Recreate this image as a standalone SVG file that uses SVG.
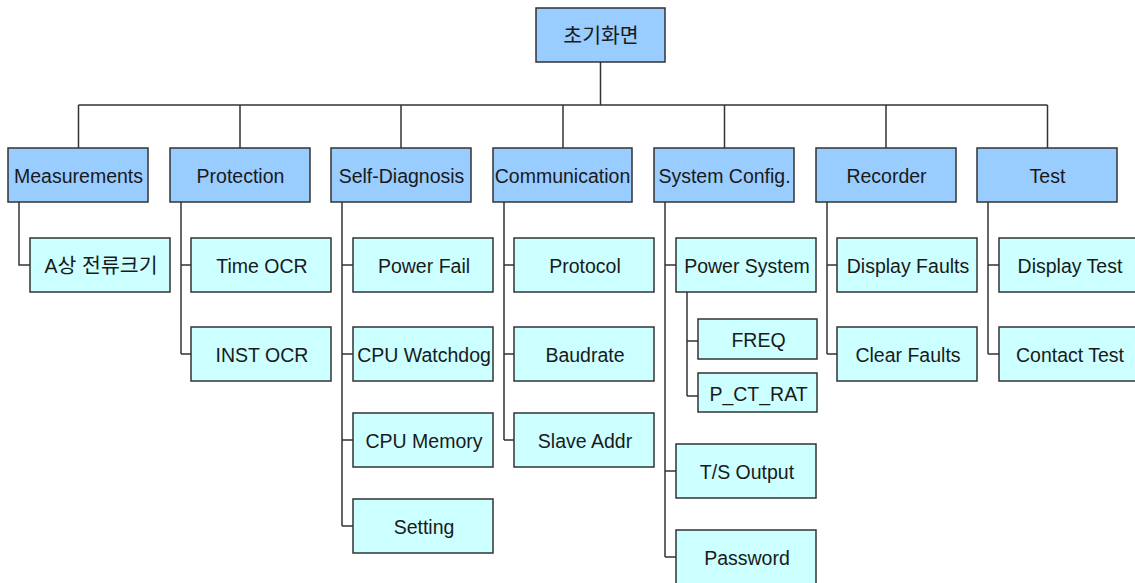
<svg xmlns="http://www.w3.org/2000/svg" width="1135" height="583" viewBox="0 0 1135 583">
<style>
.l1{fill:#99CCFF;stroke:#333333;stroke-width:1.5}
.l2{fill:#CCFFFF;stroke:#333333;stroke-width:1.5}
.t{font-family:"Liberation Sans","Noto Sans CJK KR",Arial,sans-serif;font-size:19.5px;fill:#1a1a1a;text-anchor:middle}
.k{font-size:20.5px}
.c{fill:none;stroke:#333333;stroke-width:1.5}
</style>
<rect width="1135" height="583" fill="#ffffff"/>
<g id="connectors" class="c">
<path d="M600.5,62V105M78.5,105H1047.5M78.5,105V148M240,105V148M401,105V148M563,105V148M724.5,105V148M886,105V148M1047.5,105V148"/>
<path d="M19,202V265H30"/>
<path d="M181,202V354M181,265H191M181,354H191"/>
<path d="M342,202V526M342,265H353M342,354H353M342,440H353M342,526H353"/>
<path d="M504,202V440M504,265H514M504,354H514M504,440H514"/>
<path d="M665,202V557M665,265H676M665,471H676M665,557H676"/>
<path d="M687,292V396M687,341H698M687,396H698"/>
<path d="M827,202V354M827,265H837M827,354H837"/>
<path d="M988,202V354M988,265H999M988,354H999"/>
</g>
<g id="root"><rect class="l1" x="536" y="8" width="129" height="54"/><text class="t k" x="601" y="43">초기화면</text></g>
<g id="measurements"><rect class="l1" x="8" y="148" width="140" height="54"/><text class="t" x="78.5" y="183">Measurements</text></g>
<g id="protection"><rect class="l1" x="170" y="148" width="140" height="54"/><text class="t" x="240.5" y="183">Protection</text></g>
<g id="self-diagnosis"><rect class="l1" x="331" y="148" width="140" height="54"/><text class="t" x="401.5" y="183">Self-Diagnosis</text></g>
<g id="communication"><rect class="l1" x="493" y="148" width="139" height="54"/><text class="t" x="562.5" y="183">Communication</text></g>
<g id="system-config"><rect class="l1" x="654" y="148" width="140" height="54"/><text class="t" x="724.5" y="183">System Config.</text></g>
<g id="recorder"><rect class="l1" x="816" y="148" width="140" height="54"/><text class="t" x="886.5" y="183">Recorder</text></g>
<g id="test"><rect class="l1" x="977" y="148" width="140" height="54"/><text class="t" x="1047.5" y="183">Test</text></g>
<g id="a-current"><rect class="l2" x="30" y="238" width="140" height="54"/><text class="t" x="101" y="273">A<tspan class="k">상 전류크기</tspan></text></g>
<g id="time-ocr"><rect class="l2" x="191" y="238" width="140" height="54"/><text class="t" x="262" y="273">Time OCR</text></g>
<g id="inst-ocr"><rect class="l2" x="191" y="327" width="140" height="54"/><text class="t" x="262" y="362">INST OCR</text></g>
<g id="power-fail"><rect class="l2" x="353" y="238" width="140" height="54"/><text class="t" x="424" y="273">Power Fail</text></g>
<g id="cpu-watchdog"><rect class="l2" x="353" y="327" width="140" height="54"/><text class="t" x="424" y="362">CPU Watchdog</text></g>
<g id="cpu-memory"><rect class="l2" x="353" y="413" width="140" height="54"/><text class="t" x="424" y="448">CPU Memory</text></g>
<g id="setting"><rect class="l2" x="353" y="499" width="140" height="54"/><text class="t" x="424" y="534">Setting</text></g>
<g id="protocol"><rect class="l2" x="514" y="238" width="140" height="54"/><text class="t" x="585" y="273">Protocol</text></g>
<g id="baudrate"><rect class="l2" x="514" y="327" width="140" height="54"/><text class="t" x="585" y="362">Baudrate</text></g>
<g id="slave-addr"><rect class="l2" x="514" y="413" width="140" height="54"/><text class="t" x="585" y="448">Slave Addr</text></g>
<g id="power-system"><rect class="l2" x="676" y="238" width="140" height="54"/><text class="t" x="747" y="273">Power System</text></g>
<g id="freq"><rect class="l2" x="698" y="319" width="119" height="40"/><text class="t" x="758.5" y="347">FREQ</text></g>
<g id="p-ct-rat"><rect class="l2" x="698" y="373" width="119" height="39"/><text class="t" x="758.5" y="401">P_CT_RAT</text></g>
<g id="ts-output"><rect class="l2" x="676" y="444" width="140" height="54"/><text class="t" x="747" y="479">T/S Output</text></g>
<g id="password"><rect class="l2" x="676" y="530" width="140" height="54"/><text class="t" x="747" y="565">Password</text></g>
<g id="display-faults"><rect class="l2" x="837" y="238" width="140" height="54"/><text class="t" x="908" y="273">Display Faults</text></g>
<g id="clear-faults"><rect class="l2" x="837" y="327" width="140" height="54"/><text class="t" x="908" y="362">Clear Faults</text></g>
<g id="display-test"><rect class="l2" x="999" y="238" width="140" height="54"/><text class="t" x="1070" y="273">Display Test</text></g>
<g id="contact-test"><rect class="l2" x="999" y="327" width="140" height="54"/><text class="t" x="1070" y="362">Contact Test</text></g>
</svg>
